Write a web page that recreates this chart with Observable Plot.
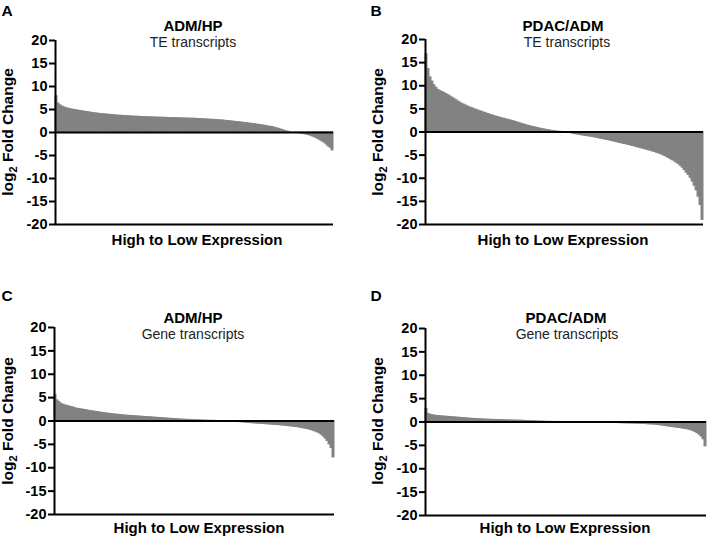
<!DOCTYPE html>
<html><head><meta charset="utf-8">
<script src="https://cdn.jsdelivr.net/npm/d3@7"></script>
<script src="https://cdn.jsdelivr.net/npm/@observablehq/plot@0.6"></script>
<style>
body{margin:0;background:#fff;}
#root{position:relative;width:708px;height:539px;overflow:hidden;background:#fff;font-family:"Liberation Sans",Arial,sans-serif;}
.panel{position:absolute;}
</style></head><body><div id="root"></div>
<script>
// ---- data (log2 fold change, ordered from high to low expression) ----
const yTicks = [-20, -15, -10, -5, 0, 5, 10, 15, 20];

const teAdmHp = [
  7.9,6.3,5.9,5.65,5.45,5.3,5.17,5.07,4.98,4.9,4.83,4.76,4.69,4.61,4.54,4.47,4.4,4.33,4.27,4.21,
  4.15,4.09,4.04,4.0,3.96,3.92,3.88,3.84,3.8,3.76,3.71,3.68,3.65,3.62,3.59,3.56,3.53,3.5,3.48,3.46,
  3.44,3.42,3.4,3.38,3.36,3.34,3.32,3.3,3.29,3.27,3.26,3.24,3.23,3.21,3.2,3.18,3.17,3.15,3.14,3.12,
  3.11,3.1,3.08,3.07,3.05,3.04,3.03,3.02,3.01,3.0,2.97,2.95,2.93,2.9,2.88,2.85,2.83,2.8,2.78,2.75,
  2.72,2.69,2.66,2.63,2.6,2.55,2.5,2.46,2.41,2.37,2.32,2.27,2.22,2.18,2.12,2.07,2.02,1.96,1.91,1.85,
  1.8,1.74,1.67,1.6,1.53,1.46,1.38,1.31,1.23,1.16,1.04,0.92,0.79,0.66,0.52,0.38,0.24,0.14,0.06,0.0,
  -0.05,-0.09,-0.14,-0.2,-0.27,-0.36,-0.46,-0.56,-0.68,-0.85,-1.03,-1.22,-1.45,-1.72,-1.95,-2.2,-2.6,-3.0,-3.3,-3.9];

const tePdacAdm = [
  16.8,13.6,11.8,10.9,10.1,9.55,9.1,8.85,8.65,8.45,8.2,7.95,7.7,7.45,7.2,6.9,6.6,6.35,6.1,5.9,
  5.7,5.5,5.3,5.15,4.98,4.82,4.66,4.5,4.35,4.2,4.05,3.9,3.76,3.62,3.48,3.35,3.22,3.1,2.98,2.87,
  2.76,2.65,2.54,2.42,2.3,2.17,2.04,1.9,1.76,1.63,1.5,1.38,1.27,1.16,1.06,0.96,0.86,0.76,0.67,0.58,
  0.5,0.42,0.34,0.27,0.2,0.14,0.09,0.05,0.02,-0.02,-0.07,-0.13,-0.2,-0.28,-0.37,-0.46,-0.55,-0.62,-0.69,-0.76,
  -0.83,-0.9,-0.96,-1.03,-1.1,-1.18,-1.27,-1.36,-1.45,-1.54,-1.63,-1.72,-1.81,-1.9,-2.0,-2.1,-2.21,-2.31,-2.41,-2.51,
  -2.61,-2.7,-2.81,-2.92,-3.03,-3.14,-3.26,-3.37,-3.49,-3.6,-3.72,-3.83,-3.95,-4.07,-4.2,-4.33,-4.48,-4.63,-4.78,-4.95,
  -5.15,-5.38,-5.62,-5.88,-6.1,-6.35,-6.65,-6.95,-7.3,-7.7,-8.25,-8.8,-9.3,-9.9,-10.7,-11.6,-12.6,-14.0,-15.8,-19.0];

const geneAdmHp = [
  5.6,4.4,4.0,3.68,3.48,3.33,3.22,3.1,3.0,2.9,2.7,2.62,2.55,2.48,2.41,2.34,2.27,2.16,2.1,2.04,
  1.98,1.91,1.85,1.78,1.72,1.65,1.58,1.53,1.48,1.43,1.38,1.34,1.3,1.25,1.21,1.17,1.13,1.1,1.07,1.04,
  1.01,0.98,0.95,0.92,0.89,0.86,0.83,0.8,0.77,0.74,0.71,0.68,0.65,0.62,0.59,0.56,0.53,0.49,0.46,0.43,
  0.4,0.37,0.34,0.32,0.29,0.27,0.25,0.23,0.21,0.19,0.17,0.15,0.13,0.11,0.09,0.07,0.06,0.05,0.04,0.03,
  0.02,0.01,0.0,-0.01,-0.02,-0.04,-0.06,-0.08,-0.1,-0.12,-0.15,-0.19,-0.23,-0.27,-0.31,-0.35,-0.39,-0.43,-0.47,-0.5,
  -0.53,-0.56,-0.59,-0.62,-0.65,-0.68,-0.71,-0.74,-0.77,-0.8,-0.83,-0.86,-0.9,-0.94,-0.98,-1.02,-1.07,-1.12,-1.17,-1.22,
  -1.27,-1.32,-1.4,-1.47,-1.55,-1.63,-1.72,-1.82,-1.95,-2.1,-2.25,-2.42,-2.62,-2.9,-3.3,-3.75,-4.25,-5.0,-5.8,-7.8];

const genePdacAdm = [
  2.8,1.75,1.55,1.45,1.38,1.32,1.27,1.23,1.19,1.16,1.13,1.1,1.06,1.02,0.99,0.95,0.92,0.88,0.85,0.81,
  0.78,0.74,0.7,0.68,0.65,0.62,0.6,0.57,0.55,0.53,0.5,0.49,0.47,0.46,0.44,0.43,0.41,0.4,0.38,0.37,
  0.36,0.34,0.33,0.32,0.31,0.3,0.29,0.28,0.26,0.24,0.22,0.2,0.18,0.16,0.14,0.12,0.1,0.08,0.07,0.06,
  0.05,0.04,0.03,0.02,0.01,0.01,0.01,0.0,0.0,0.0,0.0,0.0,0.0,-0.01,-0.01,-0.01,-0.02,-0.02,-0.03,-0.03,
  -0.04,-0.05,-0.06,-0.07,-0.08,-0.09,-0.1,-0.11,-0.12,-0.14,-0.15,-0.17,-0.18,-0.2,-0.21,-0.23,-0.24,-0.26,-0.27,-0.29,
  -0.3,-0.31,-0.32,-0.33,-0.34,-0.35,-0.37,-0.39,-0.42,-0.44,-0.47,-0.5,-0.52,-0.54,-0.56,-0.61,-0.66,-0.72,-0.78,-0.85,
  -0.92,-0.99,-1.04,-1.1,-1.16,-1.22,-1.28,-1.34,-1.41,-1.48,-1.56,-1.65,-1.78,-1.95,-2.15,-2.38,-2.7,-3.1,-3.7,-5.2];

const panelLetters = ["A", "B", "C", "D"];
const comparisons = ["ADM/HP", "PDAC/ADM", "ADM/HP", "PDAC/ADM"];
const transcriptTypes = ["TE transcripts", "TE transcripts", "Gene transcripts", "Gene transcripts"];
const xTitle = "High to Low Expression";
const yTitleParts = ["log", "2", " Fold Change"];

// ---- layout ----
const series = [teAdmHp, tePdacAdm, geneAdmHp, genePdacAdm];
const layouts = [
  {left: 0,   top: 0,   w: 354, h: 270, mt: 40, mb: 46, ml: 55, mr: 21, letterX: 7,  letterY: 16, titleX: 193, titleY: 31, subX: 193, subY: 47, xtX: 197, xtY: 245, ylX: 13, ylY: 132},
  {left: 354, top: 0,   w: 354, h: 270, mt: 39, mb: 46, ml: 71, mr: 5,  letterX: 22, letterY: 16, titleX: 209, titleY: 31, subX: 213, subY: 47, xtX: 209, xtY: 245, ylX: 29, ylY: 132},
  {left: 0,   top: 270, w: 354, h: 269, mt: 57, mb: 25, ml: 54, mr: 20, letterX: 7,  letterY: 31, titleX: 193, titleY: 53, subX: 193, subY: 69, xtX: 199, xtY: 263, ylX: 13, ylY: 151},
  {left: 354, top: 270, w: 354, h: 269, mt: 58, mb: 24, ml: 71, mr: 2,  letterX: 22, letterY: 31, titleX: 212, titleY: 53, subX: 213, subY: 69, xtX: 211, xtY: 263, ylX: 29, ylY: 151}
];

const root = document.getElementById("root");
const barColor = "#828282";
const ff = "'Liberation Sans', Arial, sans-serif";

series.forEach((vals, k) => {
  const L = layouts[k];
  const n = vals.length;
  const chart = Plot.plot({
    width: L.w, height: L.h,
    marginTop: L.mt, marginBottom: L.mb, marginLeft: L.ml, marginRight: L.mr,
    style: {fontFamily: ff, fontSize: "14px", color: "black", background: "white", overflow: "visible"},
    x: {domain: [0, n], axis: null},
    y: {domain: [-20, 20], axis: null},
    marks: [
      Plot.rect(vals, {x1: (d, i) => i, x2: (d, i) => i + 1, y1: () => 0, y2: d => d,
        fill: barColor, stroke: barColor, strokeWidth: 1}),
      Plot.ruleY([0], {stroke: "black", strokeWidth: 2.2}),
      Plot.ruleY([-20], {stroke: "black", strokeWidth: 2}),
      Plot.ruleX([0], {stroke: "black", strokeWidth: 2}),
      Plot.axisY({ticks: yTicks, tickSize: 6, tickPadding: 2, tickFormat: d => String(d),
        fontWeight: "bold", fontSize: 14.5, strokeWidth: 2, label: null})
    ]
  });
  const wrap = document.createElement("div");
  wrap.className = "panel";
  wrap.style.left = L.left + "px";
  wrap.style.top = L.top + "px";
  wrap.appendChild(chart);
  root.appendChild(wrap);

  const svg = d3.select(chart);
  svg.append("text").attr("x", L.letterX).attr("y", L.letterY)
    .attr("font-family", ff).attr("font-size", 15.5).attr("font-weight", "bold").attr("fill", "black")
    .text(panelLetters[k]);
  svg.append("text").attr("x", L.titleX).attr("y", L.titleY).attr("text-anchor", "middle")
    .attr("font-family", ff).attr("font-size", 15).attr("font-weight", "bold").attr("fill", "black")
    .text(comparisons[k]);
  svg.append("text").attr("x", L.subX).attr("y", L.subY).attr("text-anchor", "middle")
    .attr("font-family", ff).attr("font-size", 14).attr("fill", "#222")
    .text(transcriptTypes[k]);
  svg.append("text").attr("x", L.xtX).attr("y", L.xtY).attr("text-anchor", "middle")
    .attr("font-family", ff).attr("font-size", 15).attr("font-weight", "bold").attr("fill", "black")
    .text(xTitle);
  const yl = svg.append("text")
    .attr("transform", `translate(${L.ylX},${L.ylY}) rotate(-90)`)
    .attr("text-anchor", "middle")
    .attr("font-family", ff).attr("font-size", 15.5).attr("font-weight", "bold").attr("fill", "black");
  yl.append("tspan").text(yTitleParts[0]);
  yl.append("tspan").attr("font-size", 11).attr("dy", 4).text(yTitleParts[1]);
  yl.append("tspan").attr("dy", -4).text(yTitleParts[2]);
});
</script>
</body></html>
